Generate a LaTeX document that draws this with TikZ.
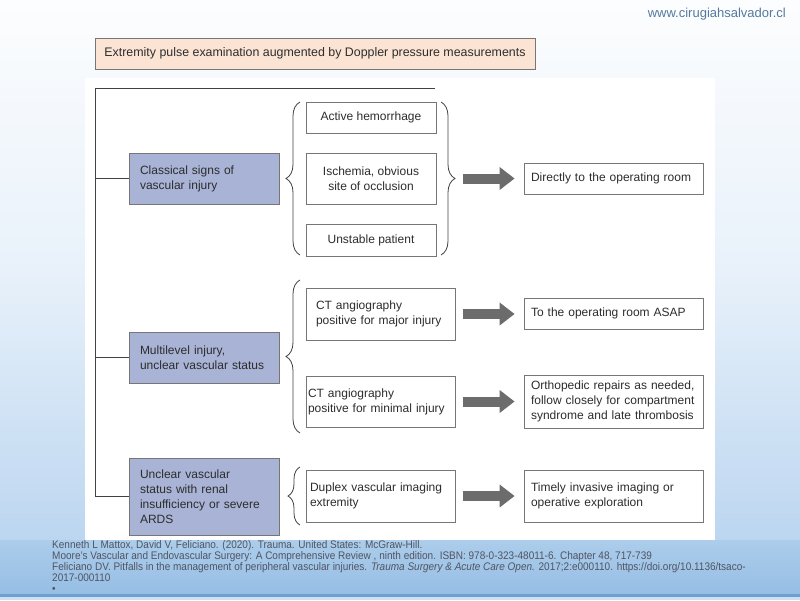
\documentclass[tikz,border=0pt]{standalone}
\usepackage{fontspec}
\setmainfont{Liberation Sans}
\newfontfamily\reffont[FakeStretch=0.91]{Liberation Sans}
\usetikzlibrary{arrows.meta,decorations.pathreplacing}

\definecolor{boxline}{RGB}{118,118,118}
\definecolor{inkgray}{RGB}{45,45,45}
\definecolor{signfill}{RGB}{168,179,214}
\definecolor{headfill}{RGB}{252,228,212}
\definecolor{arrowgray}{RGB}{108,108,108}
\definecolor{webblue}{RGB}{84,122,158}
\definecolor{reftext}{RGB}{80,84,98}
\definecolor{slidetop}{RGB}{252,253,254}
\definecolor{slidemid}{RGB}{232,241,250}
\definecolor{slidelow}{RGB}{188,214,240}
\definecolor{bandtop}{RGB}{172,205,235}
\definecolor{bandbot}{RGB}{150,190,228}
\definecolor{bandline}{RGB}{110,160,210}

\begin{document}
\begin{tikzpicture}[x=1pt,y=-1pt,
    every node/.style={font=\fontsize{12}{15}\selectfont,text=inkgray},
    plain/.style={draw=boxline,line width=0.8pt,fill=white,inner sep=0pt},
    sign/.style={plain,fill=signfill,minimum width=150pt,text width=128pt,align=left},
    finding/.style={plain,minimum width=130pt,align=center},
    study/.style={plain,minimum width=149pt,minimum height=52pt,align=left},
    plan/.style={plain,minimum width=179pt,text width=165pt,align=left},
    trunk/.style={draw=inkgray!90,line width=0.9pt},
    brace/.style={draw=inkgray!90,line width=0.8pt,decorate,decoration={brace,amplitude=14pt}},
    fat/.style={draw=arrowgray,line width=10pt,-{Triangle[length=15pt,width=22pt]},shorten <=8pt,shorten >=9pt}]

    % slide background
    \useasboundingbox (0,0) rectangle (800,600);
    \shade[top color=slidetop,bottom color=slidelow,middle color=slidemid] (0,0) rectangle (800,540);
    \shade[top color=bandtop,bottom color=bandbot] (0,540) rectangle (800,594);
    \fill[bandline] (0,594) rectangle (800,597);
    \fill[bandtop!60] (0,597) rectangle (800,600);
    \fill[white] (85,78) rectangle (715,540);

    \node[font=\fontsize{13}{15}\selectfont,text=webblue,anchor=east,inner sep=0pt] (site) at (786,14) {www.cirugiahsalvador.cl};

    % header
    \node[draw=boxline,line width=0.8pt,fill=headfill,minimum width=440pt,minimum height=31pt,inner sep=0pt,
          font=\fontsize{12.4}{15}\selectfont] (head) at (315,53.5)
        {Extremity pulse examination augmented by Doppler pressure measurements};

    % first column
    \node[sign,minimum height=51pt] (classic) at (204,178.5) {Classical signs of\\vascular injury};
    \node[sign,minimum height=51pt] (multi) at (204,357.5) {Multilevel injury,\\unclear vascular status};
    \node[sign,minimum height=77pt] (renal) at (204,496.5) {Unclear vascular\\status with renal\\insufficiency or severe\\ARDS};

    % tree
    \coordinate (root) at (95,88);
    \coordinate (rootend) at (435,88);
    \draw[trunk] (rootend) -- (root) |- (renal.west);
    \draw[trunk] (root |- classic.west) -- (classic.west);
    \draw[trunk] (root |- multi.west) -- (multi.west);

    % second column
    \node[finding,minimum height=31pt] (bleed) at (371,117.5) {Active hemorrhage};
    \node[finding,minimum height=51pt] (ischemia) at (371,178.5) {Ischemia, obvious\\site of occlusion};
    \node[finding,minimum height=32pt] (unstable) at (371,240) {Unstable patient};
    \node[study,text width=129pt] (ctmajor) at (380.5,314) {CT angiography\\positive for major injury};
    \node[study,text width=145pt,minimum height=51pt] (ctminor) at (380.5,401.5) {CT angiography\\positive for minimal injury};
    \node[study,text width=141pt] (duplex) at (380.5,496) {Duplex vascular imaging\\extremity};

    % braces
    \draw[brace] (300,255) -- (300,102);
    \draw[brace] (441,102) -- (441,255);
    \draw[brace] (300,433) -- (300,280);
    \draw[brace,decoration={amplitude=12pt}] (300,525) -- (300,467);
    \coordinate (signsend) at (455,178.5);

    % third column
    \node[plan,minimum height=31pt] (theatre) at (613.5,178.5) {Directly to the operating room};
    \node[plan,minimum height=31pt] (asap) at (613.5,313.5) {To the operating room ASAP};
    \node[plan,minimum height=53pt] (ortho) at (613.5,401.5) {Orthopedic repairs as needed,\\follow closely for compartment\\syndrome and late thrombosis};
    \node[plan,minimum height=52pt] (explore) at (613.5,496) {Timely invasive imaging or\\operative exploration};

    % arrows
    \draw[fat] (signsend) -- (signsend -| theatre.west);
    \draw[fat] (ctmajor.east) -- (ctmajor.east -| asap.west);
    \draw[fat] (ctminor.east) -- (ctminor.east -| ortho.west);
    \draw[fat] (duplex.east) -- (duplex.east -| explore.west);

    % references
    \node[anchor=north west,align=left,inner sep=0pt,text=reftext,font=\reffont\fontsize{11}{11}\selectfont] (refs) at (52,540.5)
        {Kenneth L Mattox, David V, Feliciano. (2020). Trauma. United States: McGraw-Hill.\\
         Moore’s Vascular and Endovascular Surgery: A Comprehensive Review , ninth edition. ISBN: 978-0-323-48011-6. Chapter 48, 717-739\\
         Feliciano DV. Pitfalls in the management of peripheral vascular injuries. \textit{Trauma Surgery \& Acute Care Open.} 2017;2:e000110. https://doi.org/10.1136/tsaco-\\
         2017-000110\\
         •};
\end{tikzpicture}
\end{document}
